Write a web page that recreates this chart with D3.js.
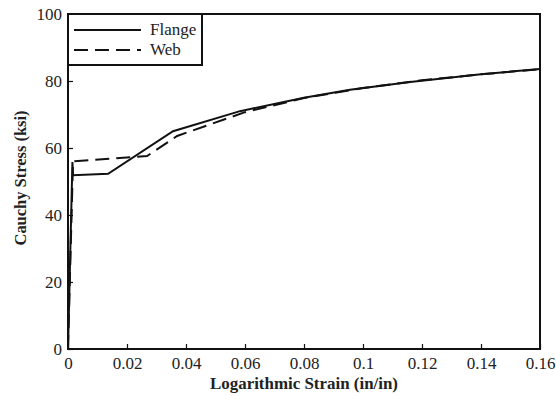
<!DOCTYPE html>
<html><head><meta charset="utf-8">
<script src="https://cdn.jsdelivr.net/npm/d3@7"></script>
<style>body{margin:0;background:#fff}svg{display:block}text{font-family:"Liberation Serif","Times New Roman",serif;fill:#222}</style>
</head><body><svg id="c" width="556" height="396"></svg>
<script>
const flangeStrain = [0, 0.0015, 0.0017, 0.0136, 0.0356, 0.0583, 0.080, 0.0956, 0.116, 0.140, 0.160];
const flangeStress = [0, 55.8, 51.9, 52.3, 65.0, 71.0, 75.0, 77.4, 79.7, 82.0, 83.6];
const webStrain = [0, 0.0017, 0.0268, 0.0370, 0.0600, 0.080, 0.100, 0.120, 0.140, 0.160];
const webStress = [0, 56.0, 57.6, 63.6, 70.7, 74.9, 77.9, 80.2, 82.0, 83.5];
const xTicks = [0, 0.02, 0.04, 0.06, 0.08, 0.1, 0.12, 0.14, 0.16];
const xTickLabels = ["0", "0.02", "0.04", "0.06", "0.08", "0.1", "0.12", "0.14", "0.16"];
const yTicks = [0, 20, 40, 60, 80, 100];
const seriesNames = ["Flange", "Web"];

const svg = d3.select("#c");
const L = 68, R = 540, T = 14, B = 349;
const x = d3.scaleLinear().domain([0, 0.16]).range([L, R]);
const y = d3.scaleLinear().domain([0, 100]).range([B, T]);

const ink = "#111";
const dash = "14,7";
const xa = svg.append("g").attr("transform", `translate(0,${B})`)
  .call(d3.axisBottom(x).tickValues(xTicks).tickFormat((d, i) => xTickLabels[i]).tickSizeInner(-5).tickSizeOuter(0).tickPadding(8));
const ya = svg.append("g").attr("transform", `translate(${L},0)`)
  .call(d3.axisLeft(y).tickValues(yTicks).tickSizeInner(-5).tickSizeOuter(0).tickPadding(6));
[xa, ya].forEach(g => {
  g.select(".domain").remove();
  g.selectAll(".tick line").attr("stroke", ink).attr("stroke-width", 1.2);
  g.selectAll("text").attr("font-size", 17).style("fill", "#222");
});
xa.selectAll(".tick text").attr("dy", "0.71em");

svg.append("rect").attr("x", L).attr("y", T).attr("width", R - L).attr("height", B - T)
  .attr("fill", "none").attr("stroke", ink).attr("stroke-width", 2);

const line = d3.line().x(d => x(d[0])).y(d => y(d[1]));
const fData = flangeStrain.map((s, i) => [s, flangeStress[i]]);
const wData = webStrain.map((s, i) => [s, webStress[i]]);
svg.append("path").datum(wData).attr("d", line).attr("fill", "none").attr("stroke", ink)
  .attr("stroke-width", 2).attr("stroke-dasharray", dash);
svg.append("path").datum(fData).attr("d", line).attr("fill", "none").attr("stroke", ink)
  .attr("stroke-width", 2);

svg.append("rect").attr("x", L).attr("y", T).attr("width", 134).attr("height", 51)
  .attr("fill", "#fff").attr("stroke", ink).attr("stroke-width", 2);
const leg = [[30, null], [50, dash]];
seriesNames.forEach((n, i) => {
  const ly = leg[i][0];
  const ln = svg.append("line").attr("x1", 74).attr("x2", 141).attr("y1", ly).attr("y2", ly)
    .attr("stroke", ink).attr("stroke-width", 2);
  if (leg[i][1]) ln.attr("stroke-dasharray", leg[i][1]);
  svg.append("text").attr("x", 150).attr("y", ly + 5).attr("font-size", 17).text(n);
});

svg.append("text").attr("x", 304).attr("y", 389).attr("text-anchor", "middle")
  .attr("font-size", 16.5).attr("font-weight", "bold")
  .attr("textLength", 188).attr("lengthAdjust", "spacingAndGlyphs").text("Logarithmic Strain (in/in)");
svg.append("text").attr("transform", "translate(26,178) rotate(-90)").attr("text-anchor", "middle")
  .attr("font-size", 16).attr("font-weight", "bold")
  .attr("textLength", 135).attr("lengthAdjust", "spacingAndGlyphs").text("Cauchy Stress (ksi)");
</script></body></html>
